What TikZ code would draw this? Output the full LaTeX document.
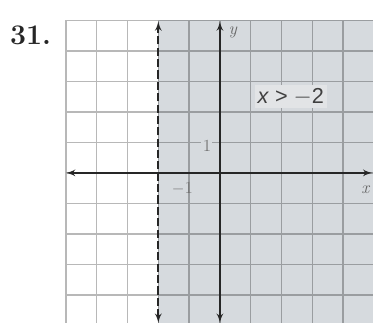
\documentclass[tikz,border=0pt]{standalone}
\usepackage{fontspec}
\newfontfamily\labelfont{Liberation Sans}
\usetikzlibrary{arrows,positioning,calc}
\definecolor{planegray}{RGB}{214,218,222}
\definecolor{boxgray}{RGB}{226,228,230}
\tikzstyle{halfplane} = [fill=planegray, draw=none]
\tikzstyle{gridline} = [draw=black, draw opacity=0.28, line width=1.1pt]
\tikzstyle{axis} = [>=latex',<->,line width=1.4pt,color=black!85]
\tikzstyle{boundary} = [axis, dash pattern=on 6pt off 2.4pt]
\tikzstyle{ticklabel} = [text=black!55, font=\fontsize{12.5}{12.5}\selectfont, inner sep=1pt]
\tikzstyle{axislabel} = [text=black!60, font=\fontsize{13}{13}\selectfont\itshape, inner sep=1pt]
\begin{document}
\begin{tikzpicture}[x=0.8cm, y=0.792cm]
    \useasboundingbox (-7.14,-4.92) rectangle (4.97,5.67);

    % shaded half plane x > -2
    \fill[halfplane] (-2,-4.92) rectangle (5,5);
    \draw[gridline, step=1] (-5,-4.92) grid (5,5);

    % axes
    \coordinate (xl) at (-5,0);
    \coordinate (xr) at (4.95,0);
    \coordinate (yb) at (0,-4.92);
    \coordinate (yt) at (0,4.97);
    \draw[axis] (xl) -- (xr);
    \draw[axis] (yb) -- (yt);

    % boundary line x = -2
    \coordinate (bb) at (-2,-4.92);
    \coordinate (bt) at (-2,4.97);
    \draw[boundary] (bb) -- (bt);

    % labels
    \node[axislabel] (ylab) at (0.42,4.62) {y};
    \node[axislabel] (xlab) at (4.72,-0.55) {x};
    \node[ticklabel, fill=planegray] (one) at (-0.42,0.9) {1};
    \node[ticklabel] (mone) at (-1.22,-0.52) {$-$1};
    \node[fill=boxgray, text=black!75, inner sep=2pt, font=\labelfont\fontsize{16}{16}\selectfont] (ineq) at (2.3,2.5) {\textit{x} > $-$2};
    \node[font=\fontsize{21}{24}\selectfont\bfseries, text=black!85] (num) at (-6.15,4.52) {31.};
\end{tikzpicture}
\end{document}
